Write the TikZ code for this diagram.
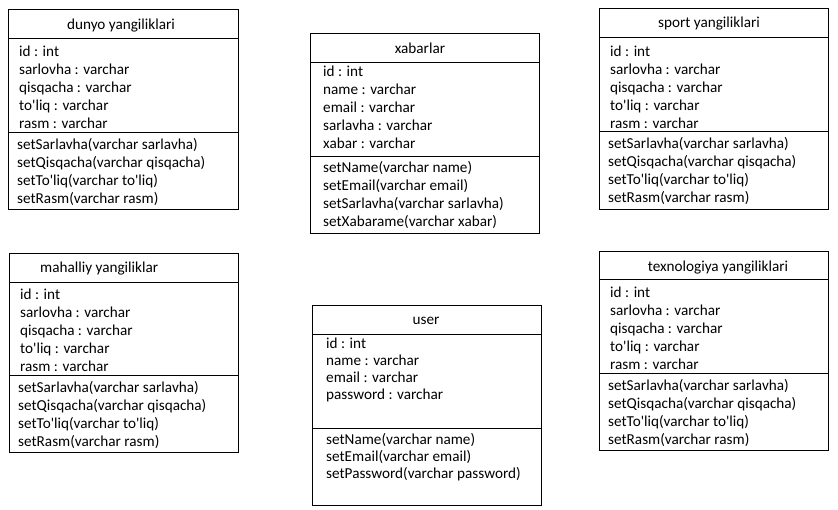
\documentclass[tikz,border=0pt]{standalone}
\usepackage{fontspec}
\setmainfont{Carlito}
\newcommand{\apos}{\textquotesingle}
\begin{document}
\begin{tikzpicture}
	[x=1pt, y=-1pt,
	every node/.style={font=\fontsize{15.2}{18}\selectfont, inner sep=0pt},
	classbox/.style={draw, line width=0.9pt, anchor=north west, minimum height=200pt},
	title/.style={anchor=base},
	members/.style={anchor=base west, align=left}]
	\useasboundingbox (0,0) rectangle (838,509);
	% class boxes
	\node[classbox, minimum width=230pt] (dunyo) at (8,9) {};
	\node[classbox, minimum width=229pt] (xabarlar) at (310,33) {};
	\node[classbox, minimum width=229pt] (user) at (312,305) {};
	\node[classbox, minimum width=229pt, minimum height=201pt] (sport) at (599,8) {};
	\node[classbox, minimum width=229pt, minimum height=199pt] (mahalliy) at (9,253) {};
	\node[classbox, minimum width=229pt, minimum height=199pt] (texnologiya) at (599,251) {};
	% separators
	\draw[line width=0.9pt] ([yshift=-29pt]dunyo.north west) -- ([yshift=-29pt]dunyo.north east);
	\draw[line width=0.9pt] ([yshift=-123pt]dunyo.north west) -- ([yshift=-123pt]dunyo.north east);
	\draw[line width=0.9pt] ([yshift=-29pt]xabarlar.north west) -- ([yshift=-29pt]xabarlar.north east);
	\draw[line width=0.9pt] ([yshift=-123pt]xabarlar.north west) -- ([yshift=-123pt]xabarlar.north east);
	\draw[line width=0.9pt] ([yshift=-29pt]user.north west) -- ([yshift=-29pt]user.north east);
	\draw[line width=0.9pt] ([yshift=-123pt]user.north west) -- ([yshift=-123pt]user.north east);
	\draw[line width=0.9pt] ([yshift=-29pt]sport.north west) -- ([yshift=-29pt]sport.north east);
	\draw[line width=0.9pt] ([yshift=-123pt]sport.north west) -- ([yshift=-123pt]sport.north east);
	\draw[line width=0.9pt] ([yshift=-29pt]mahalliy.north west) -- ([yshift=-29pt]mahalliy.north east);
	\draw[line width=0.9pt] ([yshift=-122pt]mahalliy.north west) -- ([yshift=-122pt]mahalliy.north east);
	\draw[line width=0.9pt] ([yshift=-28pt]texnologiya.north west) -- ([yshift=-28pt]texnologiya.north east);
	\draw[line width=0.9pt] ([yshift=-122pt]texnologiya.north west) -- ([yshift=-122pt]texnologiya.north east);
	% titles
	\node[title] (dunyoName) at (121,29) {dunyo yangiliklari};
	\node[title] (xabarlarName) at (420,53) {xabarlar};
	\node[title] (userName) at (426,324) {user};
	\node[title] (sportName) at (709,27) {sport yangiliklari};
	\node[title, anchor=base west] (mahalliyName) at (40,272) {mahalliy yangiliklar};
	\node[title] (texnologiyaName) at (718,271) {texnologiya yangiliklari};
	% attributes (anchored at the baseline of the last line)
	\node[members] (dunyoAttr) at (19,128) {id : int\\sarlovha : varchar\\qisqacha : varchar\\to\apos liq : varchar\\rasm : varchar};
	\node[members] (xabarlarAttr) at (323,148) {id : int\\name : varchar\\email : varchar\\sarlavha : varchar\\xabar : varchar};
	\node[members, font=\fontsize{15.2}{17}\selectfont] (userAttr) at (326,399) {id : int\\name : varchar\\email : varchar\\password : varchar};
	\node[members] (sportAttr) at (610,128) {id : int\\sarlovha : varchar\\qisqacha : varchar\\to\apos liq : varchar\\rasm : varchar};
	\node[members] (mahalliyAttr) at (20,371) {id : int\\sarlovha : varchar\\qisqacha : varchar\\to\apos liq : varchar\\rasm : varchar};
	\node[members] (texnologiyaAttr) at (610,369) {id : int\\sarlovha : varchar\\qisqacha : varchar\\to\apos liq : varchar\\rasm : varchar};
	% methods
	\node[members] (dunyoOps) at (17,203) {setSarlavha(varchar sarlavha)\\setQisqacha(varchar qisqacha)\\setTo\apos liq(varchar to\apos liq)\\setRasm(varchar rasm)};
	\node[members] (xabarlarOps) at (323,226) {setName(varchar name)\\setEmail(varchar email)\\setSarlavha(varchar sarlavha)\\setXabarame(varchar xabar)};
	\node[members, font=\fontsize{15.2}{17}\selectfont] (userOps) at (326,478) {setName(varchar name)\\setEmail(varchar email)\\setPassword(varchar password)};
	\node[members] (sportOps) at (608,202) {setSarlavha(varchar sarlavha)\\setQisqacha(varchar qisqacha)\\setTo\apos liq(varchar to\apos liq)\\setRasm(varchar rasm)};
	\node[members] (mahalliyOps) at (18,446) {setSarlavha(varchar sarlavha)\\setQisqacha(varchar qisqacha)\\setTo\apos liq(varchar to\apos liq)\\setRasm(varchar rasm)};
	\node[members] (texnologiyaOps) at (608,444) {setSarlavha(varchar sarlavha)\\setQisqacha(varchar qisqacha)\\setTo\apos liq(varchar to\apos liq)\\setRasm(varchar rasm)};
\end{tikzpicture}
\end{document}
